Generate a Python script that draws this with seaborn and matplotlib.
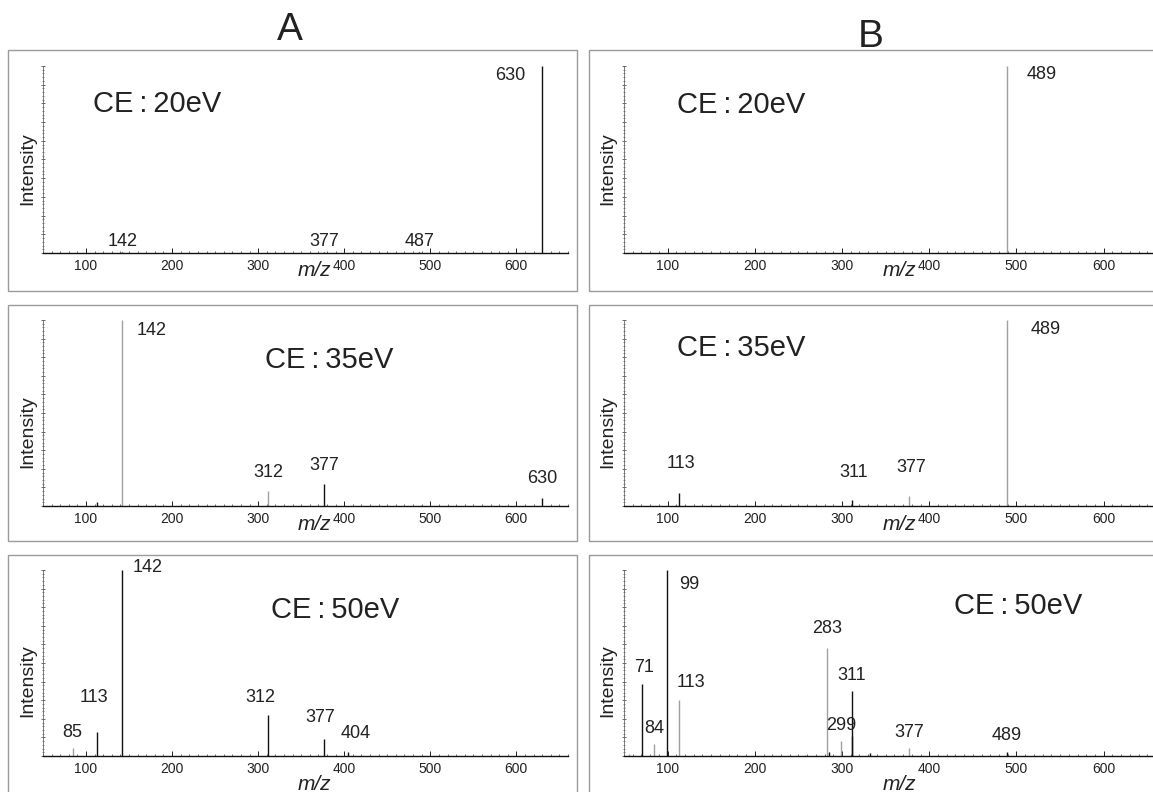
import matplotlib
matplotlib.use("Agg")
import matplotlib.pyplot as plt
import seaborn as sns
from matplotlib.patches import Rectangle
from matplotlib.ticker import MultipleLocator, NullFormatter

# Spectres MS/MS : m/z, intensite relative (%), couleur du trait (k = noir, g = gris)
A20_mz = [142, 377, 487, 630]
A20_int = [0.4, 0.4, 0.4, 100]
A20_col = ["k", "k", "k", "k"]
A20_lab = [142, 377, 487, 630]

A35_mz = [113, 142, 312, 377, 489, 630]
A35_int = [2, 100, 8, 12, 0.8, 4.5]
A35_col = ["k", "g", "g", "k", "g", "k"]
A35_lab = [142, 312, 377, 630]

A50_mz = [85, 113, 142, 312, 377, 404]
A50_int = [4.5, 13, 100, 22, 9, 2]
A50_col = ["g", "k", "k", "k", "k", "k"]
A50_lab = [85, 113, 142, 312, 377, 404]

B20_mz = [489]
B20_int = [100]
B20_col = ["g"]
B20_lab = [489]

B35_mz = [113, 311, 377, 489]
B35_int = [7, 3.2, 5.4, 100]
B35_col = ["k", "k", "g", "g"]
B35_lab = [113, 311, 377, 489]

B50_mz = [56, 71, 84, 99, 113, 257, 283, 285, 299, 311, 312, 332, 377, 489]
B50_int = [1, 38.5, 6.5, 100, 30, 0.6, 58, 2, 8, 35, 11, 1.5, 4.3, 2]
B50_col = ["g", "k", "g", "k", "g", "g", "g", "k", "g", "k", "k", "k", "g", "k"]
B50_lab = [71, 84, 99, 113, 283, 299, 311, 377, 489]

CE_text = ["CE\u2009:\u200920eV", "CE\u2009:\u200935eV", "CE\u2009:\u200950eV"]

# decalage des etiquettes (pixels) par rapport au sommet du pic
A20_off = [(0, 6, "center"), (0, 6, "center"), (0, 6, "center"), (-17, -14, "right")]
A35_off = [(14, -15, "left"), (0, 14, "center"), (0, 14, "center"), (0, 15, "center")]
A50_off = [(-1, 11, "center"), (-3, 30, "center"), (10, -2, "left"),
           (-8, 13, "center"), (-4, 17, "center"), (8, 14, "center")]
B20_off = [(20, -13, "left")]
B35_off = [(2, 25, "center"), (2, 23, "center"), (2, 24, "center"), (24, -14, "left")]
B50_off = [(2, 12, "center"), (1, 11, "center"), (12, -19, "left"), (12, 13, "center"),
           (0, 15, "center"), (0, 11, "center"), (0, 11, "center"), (0, 11, "center"),
           (0, 12, "center")]

# position du texte CE (fraction des axes) par colonne / ligne
CE_pos = [[(0.095, 0.754), (0.423, 0.742), (0.434, 0.742)],
          [(0.100, 0.750), (0.100, 0.807), (0.620, 0.765)]]

W, H = 1153, 792
AX_LEFT = [43, 624]
AX_W = [525, 532]
AX_TOP = [66, 320, 570]
AX_BOT = [253, 506, 756]
BOX_X = [(8, 577), (589, 1170)]
BOX_Y = [(50, 291), (305, 541), (555, 810)]
MZ_DY = [18, 19, 28]
INT_X = [28, 608]
INT_Y = [169, 432, 681]

sns.set_theme(style="ticks")
plt.rcParams["font.family"] = ["Liberation Sans", "DejaVu Sans"]
plt.rcParams["text.color"] = "#222222"

fig = plt.figure(figsize=(W / 100, H / 100), dpi=100)
fig.patch.set_facecolor("white")


def px(x, y):
    return x / W, 1 - y / H


panels = [
    [(A20_mz, A20_int, A20_col, A20_lab, A20_off),
     (A35_mz, A35_int, A35_col, A35_lab, A35_off),
     (A50_mz, A50_int, A50_col, A50_lab, A50_off)],
    [(B20_mz, B20_int, B20_col, B20_lab, B20_off),
     (B35_mz, B35_int, B35_col, B35_lab, B35_off),
     (B50_mz, B50_int, B50_col, B50_lab, B50_off)],
]

colors = {"k": "#111111", "g": "#a0a0a0"}

for c in range(2):
    for r in range(3):
        mz, inten, col, lab, off = panels[c][r]

        # cadre gris autour de chaque spectre
        x0, x1 = BOX_X[c]
        y0, y1 = BOX_Y[r]
        fig.patches.append(Rectangle(px(x0, y1), (x1 - x0) / W, (y1 - y0) / H,
                                     transform=fig.transFigure, fill=False,
                                     edgecolor="#9a9a9a", linewidth=1.0))

        left, bottom = px(AX_LEFT[c], AX_BOT[r])
        ax = fig.add_axes([left, bottom, AX_W[c] / W, (AX_BOT[r] - AX_TOP[r]) / H])
        ax.set_facecolor("none")

        ax.vlines(mz, 0, inten, colors=[colors[k] for k in col], linewidth=1.0)
        ax.set_xlim(50, 660)
        ax.set_ylim(0, 100)

        for lv, (dx, dy, ha) in zip(lab, off):
            i = mz.index(lv)
            ax.annotate(str(lv), xy=(mz[i], inten[i]), xytext=(dx, dy),
                        textcoords="offset pixels", ha=ha, va="baseline",
                        fontsize=13, color="#222222")

        cx, cy = CE_pos[c][r]
        ax.text(cx, cy, CE_text[r], transform=ax.transAxes, fontsize=21,
                ha="left", va="baseline", color="#222222")

        ax.annotate("m/z", xy=(366, 0), xycoords=("data", "axes fraction"),
                    xytext=(0, -MZ_DY[r]), textcoords="offset pixels",
                    ha="center", va="center", fontsize=15, style="italic")

        sns.despine(ax=ax, top=True, right=True)
        ax.spines["bottom"].set_color("#111111")
        ax.spines["bottom"].set_linewidth(1.0)
        ax.spines["left"].set_color("#666666")
        ax.spines["left"].set_linewidth(0.6)

        ax.xaxis.set_major_locator(MultipleLocator(100))
        ax.xaxis.set_minor_locator(MultipleLocator(10))
        ax.yaxis.set_major_locator(MultipleLocator(10))
        ax.yaxis.set_minor_locator(MultipleLocator(2))
        ax.yaxis.set_major_formatter(NullFormatter())
        ax.tick_params(axis="x", which="major", direction="in", length=3.5,
                       width=0.7, labelsize=10, pad=4, colors="#222222")
        ax.tick_params(axis="x", which="minor", direction="in", length=1.8,
                       width=0.6, colors="#555555")
        ax.tick_params(axis="y", which="major", direction="inout", length=3,
                       width=0.6, colors="#555555")
        ax.tick_params(axis="y", which="minor", direction="inout", length=1.5,
                       width=0.5, colors="#555555")
        ax.set_xlabel("")
        ax.set_ylabel("")

        fig.text(*px(INT_X[c], INT_Y[r]), "Intensity", rotation=90,
                 ha="center", va="center", fontsize=14, color="#222222")

fig.text(*px(290, 40), "A", ha="center", va="baseline", fontsize=28, color="#222222")
fig.text(*px(871, 47), "B", ha="center", va="baseline", fontsize=28, color="#222222")

fig.savefig("out.png", dpi=100, facecolor="white")
